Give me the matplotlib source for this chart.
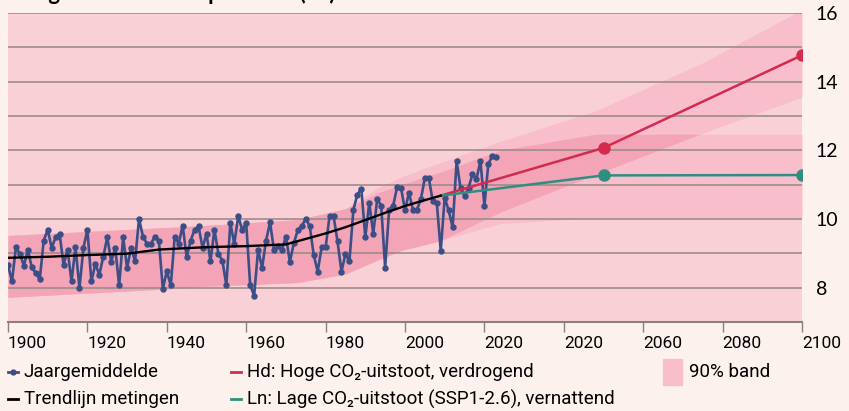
import numpy as np
import matplotlib
matplotlib.use('Agg')
import matplotlib.pyplot as plt
from matplotlib.lines import Line2D
from matplotlib.patches import Rectangle

plt.rcParams['font.family'] = ['Roboto', 'DejaVu Sans']

obs_start = 1900
obs_temp = [
    8.66, 8.18, 9.18, 8.98, 8.64, 9.10, 8.59, 8.42, 8.25, 9.37,
    9.69, 9.16, 9.47, 9.57, 8.66, 9.10, 8.18, 9.18, 7.99, 9.16,
    9.69, 8.18, 8.69, 8.38, 8.90, 9.47, 8.76, 9.16, 8.07, 9.47,
    8.57, 9.16, 8.77, 10.00, 9.49, 9.28, 9.28, 9.49, 9.37, 7.97,
    8.48, 8.07, 9.49, 9.28, 9.81, 8.89, 9.37, 9.69, 9.79, 9.16,
    9.57, 8.77, 9.69, 8.98, 8.79, 8.07, 9.88, 9.28, 10.09, 9.68,
    9.88, 8.07, 7.77, 9.11, 8.57, 9.37, 9.90, 9.10,
    9.20, 9.10, 9.49, 8.75, 9.30, 9.68, 9.80, 10.00, 9.80, 8.96,
    8.47, 9.17, 9.17, 10.09, 10.09, 9.35, 8.47, 8.98, 8.77, 10.27,
    10.71, 10.88, 9.47, 10.47, 9.57, 10.58, 10.39, 8.58, 10.27, 10.37,
    10.93, 10.91, 10.25, 10.77, 10.27, 10.27, 10.58, 11.19, 11.19, 10.52,
    10.48, 9.08, 10.62, 10.25, 9.76, 11.68, 10.89, 10.68, 10.91, 11.30,
    11.16, 11.69, 10.39, 11.61, 11.83, 11.81,
]
obs_years = np.arange(obs_start, obs_start + len(obs_temp))

# trendlijn metingen
trend_years = [1900, 1910, 1920, 1930, 1938, 1950, 1960, 1970, 1975, 1980,
               1985, 1990, 1995, 2000, 2005, 2009]
trend_temp = [8.87, 8.90, 8.95, 8.99, 9.11, 9.18, 9.21, 9.26, 9.42, 9.58,
              9.76, 9.97, 10.18, 10.38, 10.55, 10.68]

# scenario's
scen_years = [2009, 2050, 2100]
hd_temp = [10.68, 12.07, 14.77]
ln_temp = [10.68, 11.27, 11.28]

# 90% banden
band_years = [1900, 1938, 1948, 1973, 1985, 1993, 1999, 2009, 2024, 2048,
              2075, 2100]
ln_low = [7.72, 7.95, 8.03, 8.15, 8.40, 8.80, 9.08, 9.37, 9.87, 10.04,
          10.04, 10.04]
ln_high = [9.52, 9.74, 9.80, 9.98, 10.30, 10.75, 11.00, 11.37, 12.00, 12.47,
           12.47, 12.47]
hd_low = [7.72, 7.95, 8.03, 8.15, 8.40, 8.80, 9.08, 9.37, 10.20, 11.30,
          12.50, 13.55]
hd_high = [9.52, 9.74, 9.80, 9.98, 10.30, 10.90, 11.22, 11.65, 12.26, 13.15,
           14.55, 16.10]

xtick_pos = list(range(1900, 2101, 20))
xtick_lab = ['1900', '1920', '1940', '1960', '1980', '2000', '2020', '2020',
             '2060', '2080', '2100']
ytick_pos = [8, 10, 12, 14, 16]

W, H = 849, 411
fig = plt.figure(figsize=(W / 100, H / 100), dpi=100, facecolor='#FCF1EC')
ax = fig.add_axes([8 / W, 1 - 322 / H, (802 - 8) / W, (322 - 13) / H])
ax.set_facecolor('#FAD0D7')
ax.set_xlim(1900, 2100)
ax.set_ylim(7, 16)

single = '#F8BECB'
double = '#F4A4B7'
by = np.array(band_years)
ax.fill_between(by, ln_low, ln_high, color=single, lw=0, zorder=1)
ax.fill_between(by, hd_low, hd_high, color=single, lw=0, zorder=1)
ov_lo = np.maximum(ln_low, hd_low)
ov_hi = np.minimum(ln_high, hd_high)
ax.fill_between(by, ov_lo, ov_hi, where=ov_hi > ov_lo, interpolate=True,
                color=double, lw=0, zorder=1.5)

for y in range(8, 17):
    ax.axhline(y, color='#9C8C89', lw=1.2, zorder=2)

ax.plot(obs_years, obs_temp, color='#3B4E86', lw=1.9, marker='o', ms=3.6,
        zorder=4)
ax.plot(trend_years, trend_temp, color='black', lw=1.7, zorder=5)
ax.plot(scen_years, hd_temp, color='#D42A50', lw=1.8, zorder=4)
ax.plot(scen_years[1:], hd_temp[1:], 'o', color='#D42A50', ms=8, zorder=4)
ax.plot(scen_years, ln_temp, color='#2E8F80', lw=1.8, zorder=4)
ax.plot(scen_years[1:], ln_temp[1:], 'o', color='#2E8F80', ms=8, zorder=4)

for s in ['top', 'left', 'right']:
    ax.spines[s].set_visible(False)
ax.spines['bottom'].set_color('#8C807D')
ax.spines['bottom'].set_linewidth(1.5)

ax.set_xticks(xtick_pos)
ax.set_xticklabels(xtick_lab, fontsize=12.5, color='black')
for lbl in ax.get_xticklabels():
    lbl.set_ha('left')
ax.tick_params(axis='x', direction='out', length=7, width=1, color='#8C807D',
               pad=3)
ax.yaxis.tick_right()
ax.set_yticks(ytick_pos)
ax.set_yticklabels([str(v) for v in ytick_pos], fontsize=14, family='Lato')
ax.tick_params(axis='y', length=0, pad=10)

fig.text(8 / W, 1 + 0.5 / H, 'Jaargemiddelde temperatuur (°C)', fontsize=16,
         fontweight='bold', family='Lato', va='baseline', ha='left')


def fx(px):
    return px / W


def fy(py):
    return 1 - py / H


r1, r2 = 372, 399
leg = [
    (8, r1, '#3B4E86', 'Jaargemiddelde', True),
    (8, r2, 'black', 'Trendlijn metingen', False),
    (231, r1, '#D42A50', 'Hd: Hoge CO₂-uitstoot, verdrogend', False),
    (231, r2, '#2E8F80', 'Ln: Lage CO₂-uitstoot (SSP1-2.6), vernattend', False),
]
for x0, yy, c, txt, dot in leg:
    fig.add_artist(Line2D([fx(x0), fx(x0 + 10)], [fy(yy), fy(yy)], color=c,
                          lw=2, transform=fig.transFigure))
    if dot:
        fig.add_artist(Line2D([fx(x0 + 5)], [fy(yy)], color=c, marker='o',
                              ms=3.5, transform=fig.transFigure))
    fig.text(fx(x0 + 16), fy(yy), txt, fontsize=13.5, va='center', ha='left')

fig.add_artist(Rectangle((fx(663), fy(385)), fx(19), 26 / H, color=single,
                         transform=fig.transFigure))
fig.text(fx(689), fy(r1), '90% band', fontsize=13.5, va='center', ha='left')

fig.savefig('out.png', dpi=100, facecolor=fig.get_facecolor())
